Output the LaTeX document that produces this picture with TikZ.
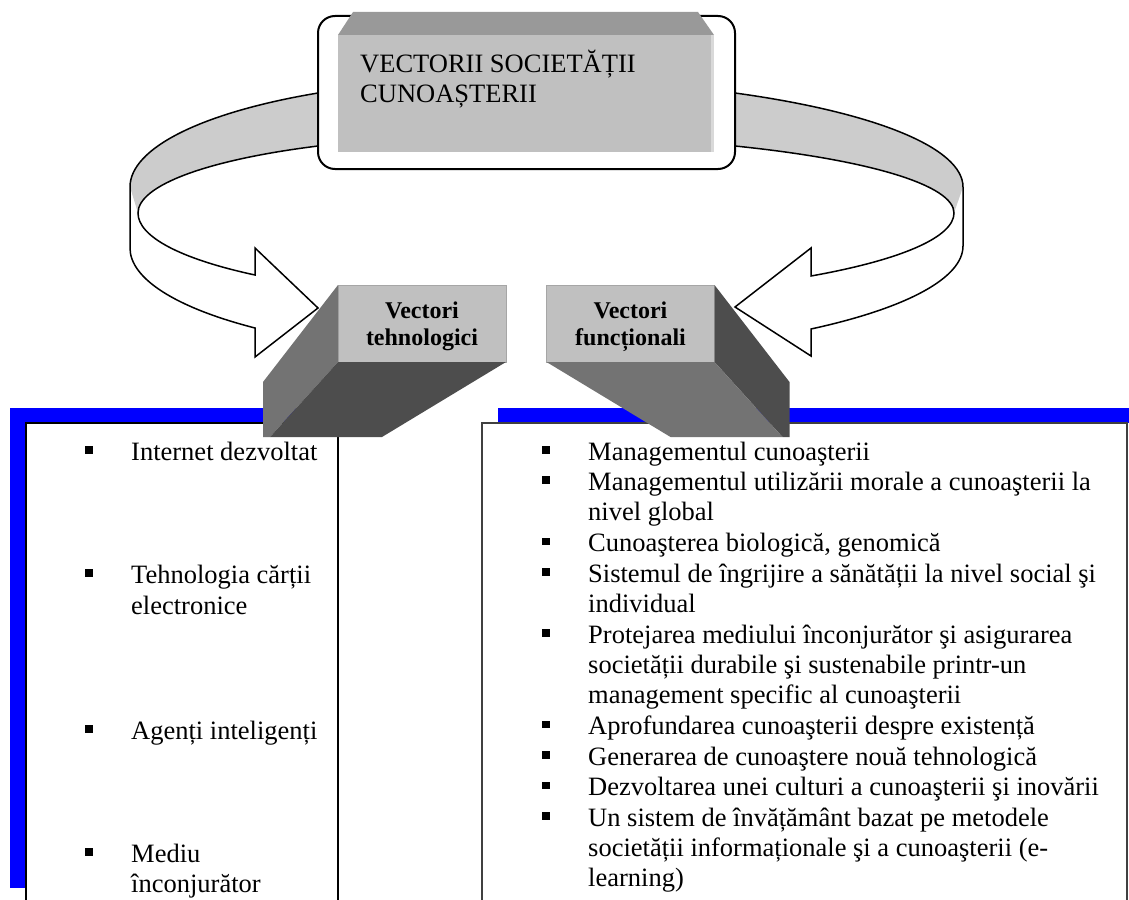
\documentclass[tikz,border=0pt]{standalone}
\usepackage{fontspec}
\setmainfont{Liberation Serif}
\usetikzlibrary{calc}
\definecolor{ribbonc}{HTML}{CCCCCC}
\definecolor{facec}{HTML}{C0C0C0}
\definecolor{bevelc}{HTML}{999999}
\definecolor{midc}{HTML}{737373}
\definecolor{darkc}{HTML}{4D4D4D}
\definecolor{shadowc}{HTML}{0000FF}
\tikzset{
  band/.style={line width=1.5pt,black,line join=miter},
  face/.style={fill=facec,draw=black!35,line width=0.8pt,inner sep=0pt,outer sep=0pt,minimum width=168,minimum height=77},
  listbox/.style={draw=black,line width=1.5pt,fill=white},
  txt/.style={anchor=base west,inner sep=0pt,font=\fontsize{26.5}{30}\selectfont},
  lbl/.style={anchor=base,inner sep=0pt,font=\fontsize{24}{27}\selectfont\bfseries},
  bul/.style={fill=black,minimum size=7.5pt,inner sep=0pt}
}
\begin{document}
\begin{tikzpicture}[x=1pt,y=-1pt]
\useasboundingbox (0,0) rectangle (1129,899);
\clip (0,0) rectangle (1129,899);
\fill[ribbonc] (318,93) .. controls (201.7,112.4) and (130,148.2) .. (130,187) -- (138,213) .. controls (138,185.5) and (206.4,159.9) .. (318,146) -- cycle;
\draw[band] (318,93) .. controls (201.7,112.4) and (130,148.2) .. (130,187) -- (130,248) .. controls (130,278.5) and (175.5,307.6) .. (255,328) -- (255,357) -- (318,308) -- (255,248) -- (255,275) .. controls (180.3,258.9) and (138,236.6) .. (138,213) .. controls (138,185.5) and (206.4,159.9) .. (318,146);
\fill[ribbonc] (735,93) .. controls (876,112.4) and (963,148.2) .. (963,187) -- (954,213) .. controls (954,185.5) and (870.6,159.9) .. (735,146) -- cycle;
\draw[band] (735,93) .. controls (876,112.4) and (963,148.2) .. (963,187) -- (963,246) .. controls (963,277.7) and (907.7,307.9) .. (811,329) -- (811,356) -- (735,307) -- (811,248) -- (811,276) .. controls (902.2,259.7) and (954,236.9) .. (954,213) .. controls (954,185.5) and (870.6,159.9) .. (735,146);

\node[draw,line width=2pt,fill=white,rounded corners=17pt,minimum width=417,minimum height=153,outer sep=0pt] (top) at (526.5,92.5) {};
\fill[facec] (338,35) rectangle (714,152);
\fill[bevelc] (353,12) -- (698,12) -- (714,35) -- (338,35) -- cycle;
\fill[black!15] (711,35) rectangle (714,152);
\node[txt] (title1) at (360,72) {VECTORII SOCIETĂȚII};
\node[txt] (title2) at (360,102) {CUNOAȘTERII};

\fill[shadowc] (10,408) rectangle (322,888);
\draw[listbox] (26,423) rectangle (338,910);
\fill[shadowc] (498,408) rectangle (1129,423);
\draw[listbox,draw=black!75] (482,423) rectangle (1127,910);

\foreach \yy/\txt [count=\i] in {460/{Internet dezvoltat},583/{Tehnologia cărții},614/{electronice},739/{Agenți inteligenți},862/{Mediu},892/{înconjurător}}
  \node[txt] (l\i) at (131,\yy) {\txt};
\foreach \yy [count=\i] in {460,583,739,862}
  \node[bul] (lb\i) at (89,\yy-10) {};
\foreach \yy/\txt [count=\i] in {460/{Managementul cunoaşterii},490/{Managementul utilizării morale a cunoaşterii la},520/{nivel global},551.5/{Cunoaşterea biologică, genomică},582/{Sistemul de îngrijire a sănătății la nivel social şi},612/{individual},643/{Protejarea mediului înconjurător şi asigurarea},673/{societății durabile şi sustenabile printr-un},703/{management specific al cunoaşterii},734.5/{Aprofundarea cunoaşterii despre existență},765/{Generarea de cunoaştere nouă tehnologică},795.5/{Dezvoltarea unei culturi a cunoaşterii şi inovării},826/{Un sistem de învățământ bazat pe metodele},856/{societății informaționale şi a cunoaşterii (e-},886/{learning)}}
  \node[txt] (r\i) at (588,\yy) {\txt};
\foreach \yy [count=\i] in {460,490,551.5,582,643,734.5,765,795.5,826}
  \node[bul] (rb\i) at (546,\yy-10) {};

\node[face] (vt) at (422,323.5) {};
\node[face] (vf) at (630.5,323.5) {};
\fill[midc] (vt.north west) -- (vt.south west) -- ++(-68,75) -- ++(-7,0) -- ++(0,-55) -- cycle;
\fill[darkc] (vt.south west) -- (vt.south east) -- ++(-124,75) -- ($(vt.south west)+(-68,75)$) -- cycle;
\fill[darkc] (vf.north east) -- (vf.south east) -- ++(68,75) -- ++(7,0) -- ++(0,-55) -- cycle;
\fill[midc] (vf.south east) -- (vf.south west) -- ++(124,75) -- ($(vf.south east)+(68,75)$) -- cycle;
\node[lbl] (vt1) at (422,318) {Vectori};
\node[lbl] (vt2) at (422,345) {tehnologici};
\node[lbl] (vf1) at (630.5,318) {Vectori};
\node[lbl] (vf2) at (630.5,345) {funcționali};
\end{tikzpicture}
\end{document}
